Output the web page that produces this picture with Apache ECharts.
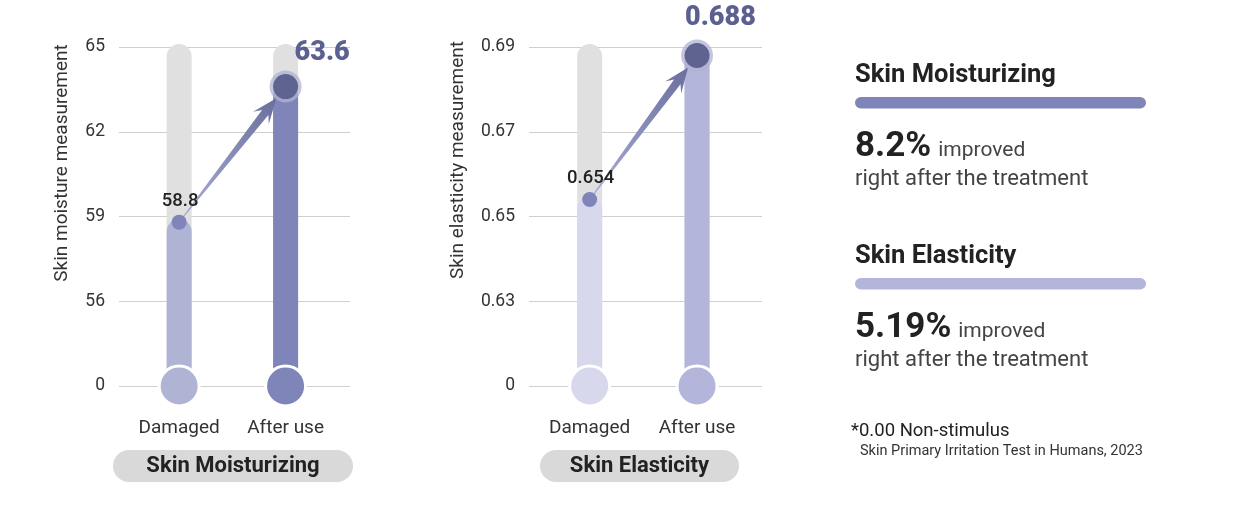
<!DOCTYPE html>
<html><head><meta charset="utf-8">
<script src="https://cdn.jsdelivr.net/npm/echarts@6/dist/echarts.min.js"></script>
<style>html,body{margin:0;padding:0;background:#fff}#c{width:1250px;height:506px}</style>
</head><body><div id="c"></div>
<script>
// ---- data ----
const categories = ['Damaged', 'After use'];
const moistureTicks = [0, 56, 59, 62, 65];
const moistureTickLabels = ['0', '56', '59', '62', '65'];
const moistureValues = [58.8, 63.6];
const moistureLabels = ['58.8', '63.6'];
const elasticityTicks = [0, 0.63, 0.65, 0.67, 0.69];
const elasticityTickLabels = ['0', '0.63', '0.65', '0.67', '0.69'];
const elasticityValues = [0.654, 0.688];
const elasticityLabels = ['0.654', '0.688'];
const panelTitles = ['Skin Moisturizing', 'Skin Elasticity'];
const axisNames = ['Skin moisture measurement', 'Skin elasticity measurement'];
const summaryTitles = ['Skin Moisturizing', 'Skin Elasticity'];
const summaryPercents = ['8.2%', '5.19%'];
const summaryWord = 'improved';
const summaryNote = 'right after the treatment';
const footnotes = ['*0.00 Non-stimulus', 'Skin Primary Irritation Test in Humans, 2023'];

const FONT = 'Roboto, "DejaVu Sans", sans-serif';

// piecewise mapping of a value onto the evenly spaced tick index scale
function toIdx(v, ticks) {
  for (let i = 0; i < ticks.length - 1; i++) {
    if (v >= ticks[i] && v <= ticks[i + 1]) return i + (v - ticks[i]) / (ticks[i + 1] - ticks[i]);
  }
  return v < ticks[0] ? 0 : ticks.length - 1;
}
const measureCtx = document.createElement('canvas').getContext('2d');
function textWidth(t, font) { measureCtx.font = font; return measureCtx.measureText(t).width; }

const panels = [
  { ticks: moistureTicks, tickLabels: moistureTickLabels, values: moistureValues, labels: moistureLabels,
    barColors: ['#b0b4d4', '#7f84b9'], left: 119, width: 231, bigDx: 9, bigDy: -33 },
  { ticks: elasticityTicks, tickLabels: elasticityTickLabels, values: elasticityValues, labels: elasticityLabels,
    barColors: ['#d7d8ec', '#b3b5db'], left: 529, width: 233, bigDx: -12, bigDy: -37 }
];

const grids = [], xAxes = [], yAxes = [], series = [];
panels.forEach((P, gi) => {
  grids.push({ left: P.left, width: P.width, top: 47, height: 339 });
  xAxes.push({
    gridIndex: gi, type: 'value', min: -0.565, max: 1.605,
    axisLine: { show: false }, axisTick: { show: false }, splitLine: { show: false },
    axisLabel: { customValues: [0, 1], formatter: v => categories[Math.round(v)],
      margin: 33, fontSize: 19, color: '#333', fontFamily: FONT }
  });
  yAxes.push({
    gridIndex: gi, type: 'value', min: 0, max: P.ticks.length - 1, interval: 1,
    axisLine: { show: false }, axisTick: { show: false },
    splitLine: { lineStyle: { color: '#cfcfcf', width: 1 } },
    axisLabel: { formatter: v => P.tickLabels[Math.round(v)], margin: 14, fontSize: 17.5, color: '#333', fontFamily: FONT }
  });
  const idx = P.values.map(v => toIdx(v, P.ticks));
  const topIdx = P.ticks.length - 1;
  // bars
  series.push({
    type: 'custom', xAxisIndex: gi, yAxisIndex: gi, z: 2, silent: true,
    data: idx.map((y, i) => [i, y]),
    renderItem: (params, api) => {
      const x = api.value(0), y = api.value(1);
      const p = api.coord([x, y]), p0 = api.coord([x, 0]), pt = api.coord([x, topIdx]);
      const w = 25, col = P.barColors[params.dataIndex];
      return { type: 'group', children: [
        { type: 'rect', shape: { x: p0[0] - w / 2, y: pt[1] - 3, width: w, height: p0[1] - pt[1] + 3, r: [12.5, 12.5, 0, 0] }, style: { fill: '#e0e0e0' } },
        { type: 'rect', shape: { x: p0[0] - w / 2, y: p[1] - 3, width: w, height: p0[1] - p[1] + 3, r: [12.5, 12.5, 0, 0] }, style: { fill: col } },
        { type: 'circle', shape: { cx: p0[0], cy: p0[1], r: 20 }, style: { fill: col, stroke: '#fff', lineWidth: 3 } }
      ] };
    }
  });
  // arrow
  series.push({
    type: 'custom', xAxisIndex: gi, yAxisIndex: gi, z: 3, silent: true,
    data: [[0, idx[0], 1, idx[1]]],
    encode: { x: [0, 2], y: [1, 3] },
    renderItem: (params, api) => {
      const a = api.coord([api.value(0), api.value(1)]);
      const b = api.coord([api.value(2), api.value(3)]);
      const dx = b[0] - a[0], dy = b[1] - a[1], L = Math.hypot(dx, dy);
      const ux = dx / L, uy = dy / L, nx = -uy, ny = ux;
      const tip = [b[0] - ux * 15, b[1] - uy * 15];
      const neck = [tip[0] - ux * 18, tip[1] - uy * 18];
      const wing = [tip[0] - ux * 25, tip[1] - uy * 25];
      const st = [a[0] + ux * 3, a[1] + uy * 3];
      const pts = [
        [st[0] + nx * 0.5, st[1] + ny * 0.5],
        [neck[0] + nx * 4, neck[1] + ny * 4],
        [wing[0] + nx * 10, wing[1] + ny * 10],
        tip,
        [wing[0] - nx * 10, wing[1] - ny * 10],
        [neck[0] - nx * 4, neck[1] - ny * 4],
        [st[0] - nx * 0.5, st[1] - ny * 0.5]
      ];
      return { type: 'polygon', shape: { points: pts }, style: {
        fill: { type: 'linear', global: true, x: st[0], y: st[1], x2: tip[0], y2: tip[1],
          colorStops: [{ offset: 0, color: '#a9add6' }, { offset: 1, color: '#6b6f9d' }] } } };
    }
  });
  // dots + labels
  series.push({
    type: 'custom', xAxisIndex: gi, yAxisIndex: gi, z: 4, silent: true,
    data: idx.map((y, i) => [i, y]),
    renderItem: (params, api) => {
      const p = api.coord([api.value(0), api.value(1)]);
      const lab = P.labels[params.dataIndex];
      if (params.dataIndex === 0) {
        return { type: 'group', children: [
          { type: 'circle', shape: { cx: p[0], cy: p[1], r: 7.5 }, style: { fill: '#7f84b9' } },
          { type: 'text', x: p[0] + 1, y: p[1] - 21, style: { text: lab, fontSize: 18.5, fontWeight: 500, fill: '#222', align: 'center', verticalAlign: 'middle', fontFamily: FONT } }
        ] };
      }
      return { type: 'group', children: [
        { type: 'circle', shape: { cx: p[0], cy: p[1], r: 16 }, style: { fill: 'rgba(176,179,214,0.75)' } },
        { type: 'circle', shape: { cx: p[0], cy: p[1], r: 12.5 }, style: { fill: '#5f6390' } },
        { type: 'text', x: p[0] + P.bigDx, y: p[1] + P.bigDy, style: { text: lab, fontSize: 27, fontWeight: 900, fill: '#5c6090', align: 'left', verticalAlign: 'middle', fontFamily: FONT } }
      ] };
    }
  });
});

// ---- decorative text ----
const graphic = [];
const nameX = [62, 458], nameY = [163, 160];
axisNames.forEach((t, i) => graphic.push({ type: 'text', x: nameX[i], y: nameY[i], rotation: Math.PI / 2,
  style: { text: t, fontSize: 19, fill: '#333', align: 'center', verticalAlign: 'middle', fontFamily: FONT } }));
const pills = [{ x: 113, w: 240 }, { x: 540, w: 199 }];
panelTitles.forEach((t, i) => {
  graphic.push({ type: 'rect', shape: { x: pills[i].x, y: 450, width: pills[i].w, height: 32, r: 16 }, style: { fill: '#d9d9d9' } });
  graphic.push({ type: 'text', x: pills[i].x + pills[i].w / 2, y: 466, style: { text: t, fontSize: 22, fontWeight: 'bold', fill: '#222', align: 'center', verticalAlign: 'middle', fontFamily: FONT } });
});
const sumBarColors = ['#7f84b9', '#b3b5db'];
summaryTitles.forEach((t, i) => {
  const o = i * 181;
  graphic.push({ type: 'text', x: 855, y: 76 + o, style: { text: t, fontSize: 25.5, fontWeight: 'bold', fill: '#222', verticalAlign: 'middle', fontFamily: FONT } });
  graphic.push({ type: 'rect', shape: { x: 855, y: 97 + o, width: 291, height: 11.5, r: 5.75 }, style: { fill: sumBarColors[i] } });
  const pw = textWidth(summaryPercents[i], 'bold 35px Roboto');
  graphic.push({ type: 'text', x: 855, y: 147 + o, style: { text: summaryPercents[i], fontSize: 35, fontWeight: 'bold', fill: '#222', verticalAlign: 'middle', fontFamily: FONT } });
  graphic.push({ type: 'text', x: 855 + pw + 7, y: 151 + o, style: { text: summaryWord, fontSize: 21, fill: '#444', verticalAlign: 'middle', fontFamily: FONT } });
  graphic.push({ type: 'text', x: 855, y: 179 + o, style: { text: summaryNote, fontSize: 22, fill: '#444', verticalAlign: 'middle', fontFamily: FONT } });
});
graphic.push({ type: 'text', x: 851, y: 431, style: { text: footnotes[0], fontSize: 18.5, fill: '#222', verticalAlign: 'middle', fontFamily: FONT } });
graphic.push({ type: 'text', x: 860, y: 451, style: { text: footnotes[1], fontSize: 14.5, fill: '#333', verticalAlign: 'middle', fontFamily: FONT } });

const chart = echarts.init(document.getElementById('c'), null, { renderer: 'canvas' });
chart.setOption({
  animation: false, backgroundColor: '#fff',
  grid: grids, xAxis: xAxes, yAxis: yAxes, series, graphic
});
</script></body></html>
